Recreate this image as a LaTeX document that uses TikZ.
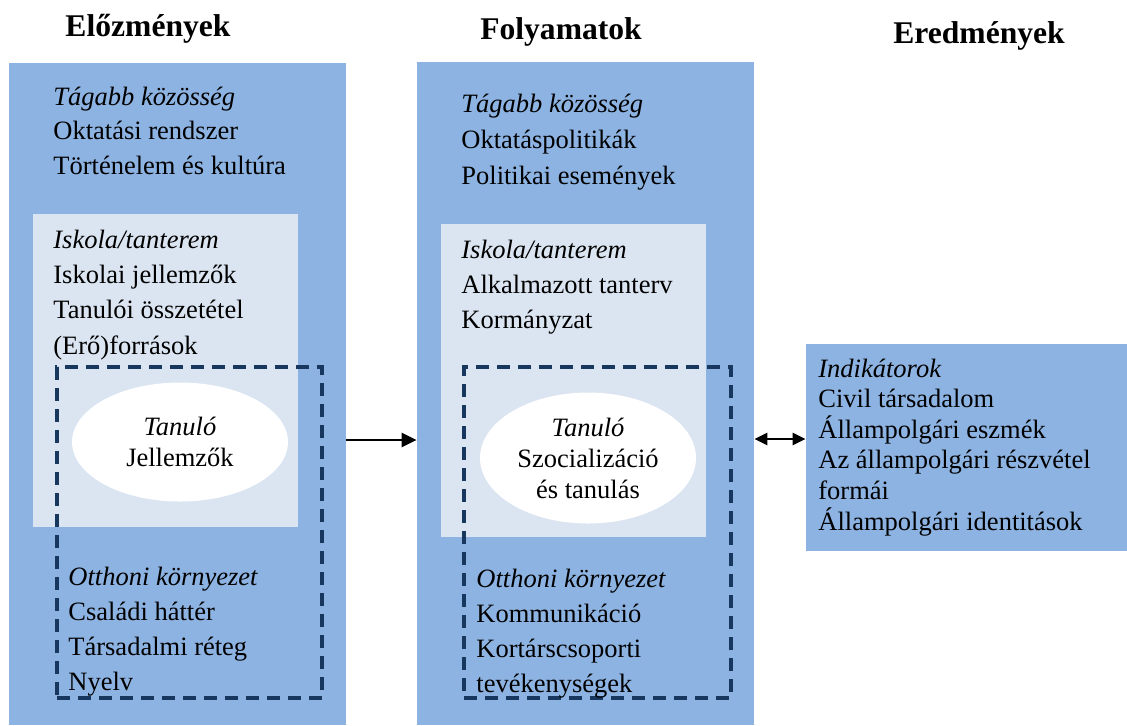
\documentclass[tikz,border=0pt]{standalone}
\usepackage{fontspec}
\setmainfont{Liberation Serif}
\usetikzlibrary{arrows.meta, fit, shapes.geometric}

\definecolor{panelblue}{HTML}{8DB3E2}
\definecolor{paleblue}{HTML}{DBE5F1}
\definecolor{navy}{HTML}{17375E}

\tikzset{
    panel/.style={fill=panelblue, draw=none, inner sep=0pt},
    schoolbox/.style={fill=paleblue, draw=none, inner sep=0pt},
    homebox/.style={draw=navy, line width=1.6pt, dash pattern=on 6.5pt off 4pt, inner sep=0pt},
    learner/.style={ellipse, fill=white, draw=none, inner sep=0pt, align=center,
        font=\fontsize{13.25}{15.5}\selectfont},
    item/.style={anchor=base west, align=left, inner sep=0pt},
    heading/.style={anchor=base, inner sep=0pt, font=\fontsize{15.8}{19}\selectfont\bfseries},
}

\begin{document}
\begin{tikzpicture}[x=0.5pt, y=-0.5pt]
        \useasboundingbox (0,0) rectangle (1127,725);

        % Column headings
        \node[heading] (hpre) at (148,36) {Előzmények};
        \node[heading] (hproc) at (561,39) {Folyamatok};
        \node[heading] (hout) at (979,43) {Eredmények};

        % Draw panels
        \node[panel, fit={(9,63) (346,725)}] (lpanel) {};
        \node[panel, fit={(417,62) (754,725)}] (mpanel) {};
        \node[panel, fit={(806,344) (1127,551)}] (rpanel) {};
        \node[schoolbox, fit={(33,214) (298,527)}] (lschool) {};
        \node[schoolbox, fit={(441,224) (706,537)}] (mschool) {};

        % Learner ellipses
        \node[learner, minimum width=108pt, minimum height=59.5pt] (lstudent) at (180,442)
            {\textit{Tanuló}\\Jellemzők};
        \node[learner, minimum width=108pt, minimum height=65.5pt] (mstudent) at (588,458)
            {\textit{Tanuló}\\Szocializáció\\és tanulás};

        % Home surroundings (dashed)
        \node[homebox, fit={(57,367) (322,698)}] (lhome) {};
        \node[homebox, fit={(464,367) (731,698)}] (mhome) {};

        % Antecedents (placed at the baseline of the last line)
        \node[item, font=\fontsize{13.25}{17.25}\selectfont] (lwide) at (53,174)
            {\textit{Tágabb közösség}\\Oktatási rendszer\\Történelem és kultúra};
        \node[item, font=\fontsize{13.25}{17.6}\selectfont] (lclass) at (53,354)
            {\textit{Iskola/tanterem}\\Iskolai jellemzők\\Tanulói összetétel\\(Erő)források};
        \node[item, font=\fontsize{13.25}{17.5}\selectfont] (lfamily) at (68,690)
            {\textit{Otthoni környezet}\\Családi háttér\\Társadalmi réteg\\Nyelv};

        % Processes
        \node[item, font=\fontsize{13.25}{18}\selectfont] (mwide) at (461,184)
            {\textit{Tágabb közösség}\\Oktatáspolitikák\\Politikai események};
        \node[item, font=\fontsize{13.25}{17.5}\selectfont] (mclass) at (461,328)
            {\textit{Iskola/tanterem}\\Alkalmazott tanterv\\Kormányzat};
        \node[item, font=\fontsize{13.25}{17.5}\selectfont] (mfamily) at (476,692)
            {\textit{Otthoni környezet}\\Kommunikáció\\Kortárscsoporti\\tevékenységek};

        % Outcomes
        \node[item, font=\fontsize{13.25}{15.3}\selectfont] (rind) at (818,530)
            {\textit{Indikátorok}\\Civil társadalom\\Állampolgári eszmék\\Az állampolgári részvétel\\formái\\Állampolgári identitások};

        % Connectors
        \draw[line width=1.2pt, -{Triangle[length=7.5pt, width=7pt]}]
            (lpanel.east |- 0,440) -- (mpanel.west |- 0,440);
        \draw[line width=1.2pt, {Triangle[length=6.5pt, width=6pt]}-{Triangle[length=6.5pt, width=6pt]}]
            (mpanel.east |- 0,439) -- (rpanel.west |- 0,439);

    \end{tikzpicture}
\end{document}
